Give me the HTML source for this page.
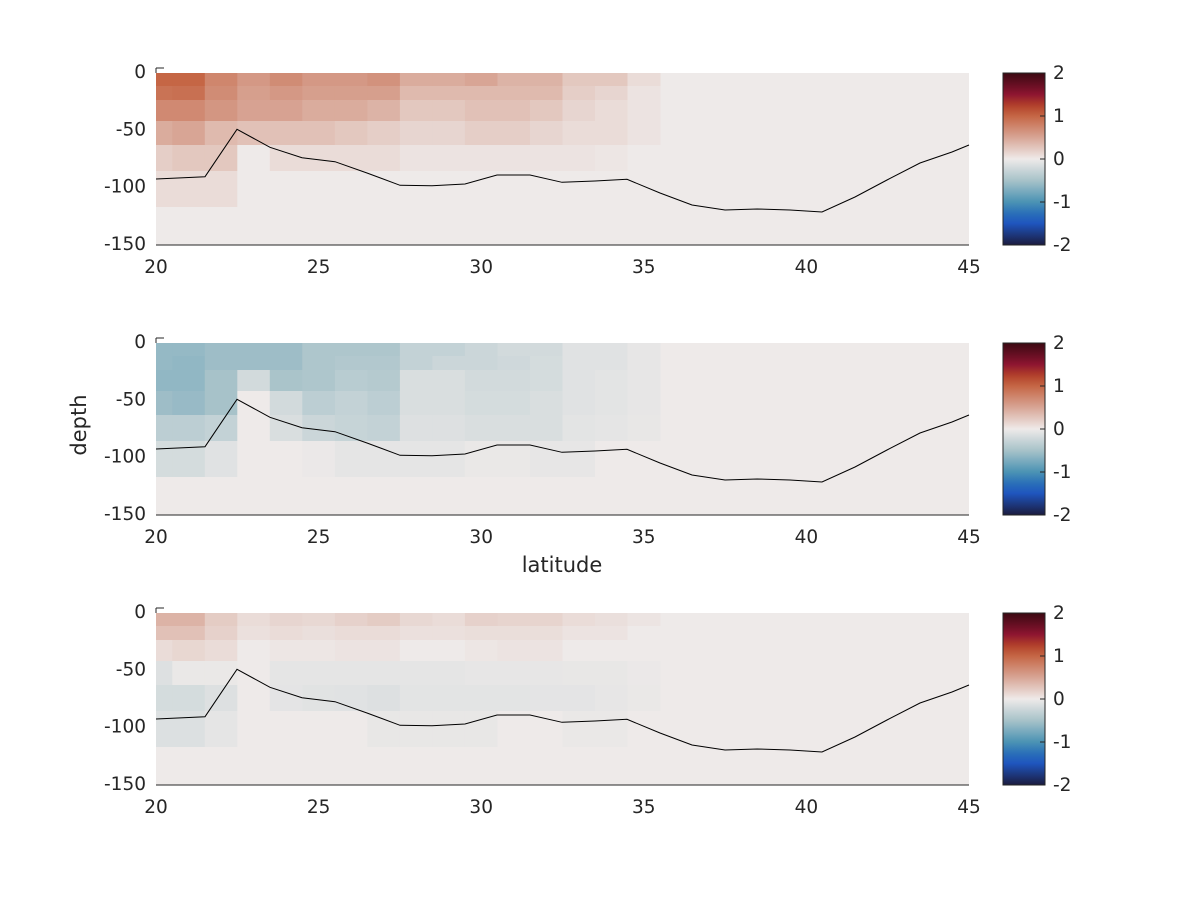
<!DOCTYPE html>
<html><head><meta charset="utf-8"><style>
body{margin:0;background:#fff;}
svg text{font-family:"DejaVu Sans","Liberation Sans",sans-serif;fill:#262626;font-size:18.5px;}
</style></head><body>
<svg id="s" width="1200" height="900" xmlns="http://www.w3.org/2000/svg"></svg>
<script>
const S=document.getElementById('s');let h='';
const stops=[[-2,[27,27,63]],[-1.5,[31,85,190]],[-1.25,[42,113,184]],[-1,[75,147,180]],[-0.5,[167,194,201]],[0,[238,234,233]],[0.5,[216,165,149]],[1,[197,102,69]],[1.25,[178,64,42]],[1.5,[142,21,48]],[1.7,[107,15,36]],[2,[60,9,18]]];
function col(v){v=Math.max(-2,Math.min(2,v));for(let i=0;i<stops.length-1;i++){const a=stops[i],b=stops[i+1];if(v<=b[0]){const t=(v-a[0])/(b[0]-a[0]);return 'rgb('+a[1].map((c,j)=>Math.round(c+(b[1][j]-c)*t)).join(',')+')';}}}
const rows=[0,13,27,48,72,98,134,172];
const P1=[
[1.0,1.0,.75,.6,.7,.6,.6,.65,.45,.45,.5,.4,.4,.25,.25,.1],
[.9,.92,.7,.55,.6,.55,.55,.55,.35,.35,.35,.35,.35,.2,.15,.05],
[.72,.72,.62,.52,.52,.45,.45,.4,.25,.25,.3,.3,.25,.15,.1,.05],
[.45,.5,.35,.3,.3,.3,.25,.2,.15,.15,.2,.2,.15,.1,.1,.05],
[.2,.25,.25,0,.1,.1,.1,.1,.05,.05,.05,.05,.05,.05,.03,0],
[.1,.1,.1,0,0,0,0,0,0,0,0,0,0,0,0,0],
[0,0,0,0,0,0,0,0,0,0,0,0,0,0,0,0]];
const P2=[
[-.6,-.6,-.55,-.55,-.55,-.45,-.45,-.45,-.3,-.3,-.25,-.2,-.2,-.1,-.1,-.05],
[-.6,-.62,-.55,-.55,-.55,-.45,-.42,-.42,-.3,-.25,-.25,-.22,-.18,-.1,-.1,-.05],
[-.62,-.62,-.5,-.2,-.48,-.45,-.38,-.4,-.15,-.15,-.2,-.2,-.18,-.1,-.08,-.05],
[-.55,-.58,-.5,0,-.2,-.35,-.3,-.35,-.15,-.15,-.18,-.18,-.15,-.1,-.08,-.05],
[-.35,-.35,-.3,0,-.15,-.25,-.28,-.3,-.12,-.12,-.15,-.15,-.15,-.08,-.06,-.04],
[-.18,-.18,-.1,0,0,-.02,-.06,-.06,-.06,-.06,-.03,-.03,-.05,-.05,0,0],
[0,0,0,0,0,0,0,0,0,0,0,0,0,0,0,0]];
const P3=[
[.4,.4,.22,.1,.15,.13,.18,.22,.13,.1,.18,.16,.16,.1,.08,.04],
[.3,.3,.18,.07,.1,.08,.1,.1,.07,.07,.09,.09,.09,.05,.05,0],
[.1,.14,.1,0,.03,.03,.05,.05,0,0,.03,.05,.05,0,0,0],
[-.12,-.03,-.03,0,-.06,-.06,-.06,-.06,-.06,-.06,-.05,-.05,-.05,-.04,-.04,-.02],
[-.18,-.18,-.12,0,-.07,-.09,-.1,-.12,-.08,-.08,-.08,-.08,-.07,-.07,-.05,-.03],
[-.13,-.13,-.06,0,0,0,0,-.04,-.04,-.04,-.04,0,0,-.03,-.03,0],
[0,0,0,0,0,0,0,0,0,0,0,0,0,0,0,0]];
const X=L=>156+(L-20)*32.52;
const line=[[156,179],[205,176.7],[237,129.3],[270,147.3],[302,157.7],[335,161.7],[367,173],[400,185.3],[432,185.7],[465,184],[497,175],[530,175],[562,182.3],[595,181],[627,179.3],[660,193],[692,205],[725,210],[757,209],[790,210],[822,212],[855,197],[887,180],[920,163],[952,152],[969,145]];
[[73,P1],[343,P2],[613,P3]].forEach(([T,P],pi)=>{
 h+=`<rect x="156" y="${T}" width="813" height="172" fill="${col(0)}"/>`;
 for(let r=0;r<7;r++)for(let c=0;c<16;c++){const x0=c==0?156:X(19.5+c),x1=X(20.5+c);
  h+=`<rect x="${x0.toFixed(1)}" y="${T+rows[r]}" width="${(x1-x0+0.5).toFixed(1)}" height="${rows[r+1]-rows[r]+0.5}" fill="${col(P[r][c])}"/>`;}
 h+=`<polyline fill="none" stroke="#000" stroke-width="1" points="${line.map(p=>p[0]+','+(p[1]-73+T)).join(' ')}"/>`;
 h+=`<line x1="156" y1="${T+172}" x2="969" y2="${T+172}" stroke="#262626"/>`;
 h+=`<line x1="156" y1="${T-5}" x2="164" y2="${T-5}" stroke="#262626"/><line x1="156" y1="${T-5}" x2="156" y2="${T}" stroke="#262626"/>`;
 [0,-50,-100,-150].forEach((v,i)=>{h+=`<text x="146" y="${T+i*57.33+5}" text-anchor="end">${v}</text>`;});
 [20,25,30,35,40,45].forEach(v=>{h+=`<text x="${X(v)}" y="${T+172+28}" text-anchor="middle">${v}</text>`;});
 h+=`<rect x="1003" y="${T}" width="42" height="172" fill="url(#g)" stroke="#262626" stroke-width="1"/>`;
 [2,1,0,-1,-2].forEach((v,i)=>{const y=T+i*43;h+=`<line x1="1040" y1="${y}" x2="1045" y2="${y}" stroke="#262626"/><text x="1053" y="${y+6}">${v}</text>`;});
});
let g='<defs><linearGradient id="g" x1="0" y1="0" x2="0" y2="1">';
for(let i=0;i<=40;i++){const v=2-i*0.1;g+=`<stop offset="${i/40}" stop-color="${col(v)}"/>`;}
g+='</linearGradient></defs>';
h=g+h+`<text x="562" y="572" text-anchor="middle" style="font-size:21px">latitude</text><text transform="translate(86,425) rotate(-90)" text-anchor="middle" style="font-size:21px">depth</text>`;
S.innerHTML=h;
</script>
</body></html>
